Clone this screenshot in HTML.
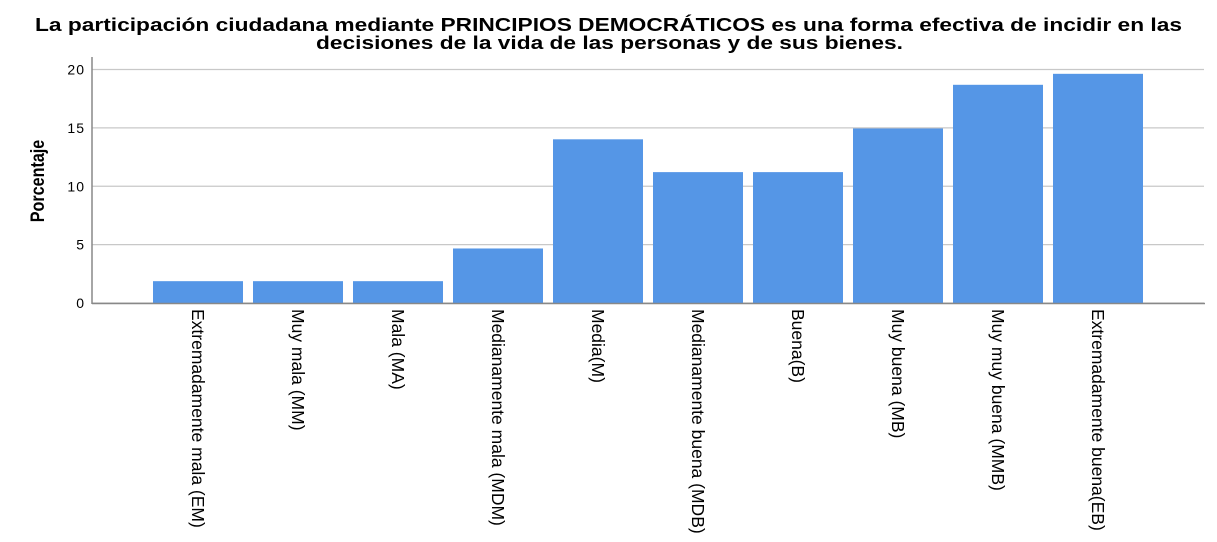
<!DOCTYPE html>
<html><head><meta charset="utf-8"><style>
body{margin:0;background:#fff}
svg{display:block;font-family:"Liberation Sans",Arial,sans-serif}
</style></head><body>
<svg width="1217" height="542" viewBox="0 0 1217 542">
<text x="35" y="31" font-size="18" font-weight="bold" textLength="1147" lengthAdjust="spacingAndGlyphs">La participación ciudadana mediante PRINCIPIOS DEMOCRÁTICOS es una forma efectiva de incidir en las</text>
<text x="316" y="49" font-size="18" font-weight="bold" textLength="587" lengthAdjust="spacingAndGlyphs">decisiones de la vida de las personas y de sus bienes.</text>
<text transform="translate(44,181) rotate(-90) scale(0.85,1)" text-anchor="middle" font-size="19" font-weight="bold">Porcentaje</text>
<g id="grid"></g>
<g id="bars"></g>
<g id="labels"></g>
<line x1="92" y1="57" x2="92" y2="304" stroke="#888" stroke-width="1.5"/>
<line x1="92" y1="303.5" x2="1205" y2="303.5" stroke="#888" stroke-width="1.5"/>
</svg>
<script>
const categories=["Extremadamente mala (EM)","Muy mala (MM)","Mala (MA)","Medianamente mala (MDM)","Media(M)","Medianamente buena (MDB)","Buena(B)","Muy buena (MB)","Muy muy buena (MMB)","Extremadamente buena(EB)"];
const values=[1.87,1.87,1.87,4.67,14.02,11.21,11.21,14.95,18.69,19.63];
const yTicks=[0,5,10,15,20];
const NS="http://www.w3.org/2000/svg";
function y(v){return 303-v*(303-69.5)/20;}
function xc(i){return 198+i*100;}
const grid=document.getElementById('grid'),bars=document.getElementById('bars'),labels=document.getElementById('labels');
yTicks.forEach(t=>{
  const l=document.createElementNS(NS,'line');
  
  
  l.setAttribute('x1',92);l.setAttribute('x2',1204);l.setAttribute('y1',y(t));l.setAttribute('y2',y(t));
  l.setAttribute('stroke','#c8c8c8');l.setAttribute('stroke-width','1.3');
  grid.appendChild(l);
  const tx=document.createElementNS(NS,'text');
  
  
  tx.setAttribute('x',85);tx.setAttribute('y',y(t)+5);tx.setAttribute('text-anchor','end');tx.setAttribute('font-size','14');tx.setAttribute('letter-spacing','1');
  tx.textContent=t;grid.appendChild(tx);
});
values.forEach((v,i)=>{
  const r=document.createElementNS(NS,'rect');
  
  
  r.setAttribute('x',xc(i)-45);r.setAttribute('width',90);r.setAttribute('y',y(v));r.setAttribute('height',303-y(v));
  r.setAttribute('fill','#5596e6');
  bars.appendChild(r);
  const tx=document.createElementNS(NS,'text');
  
  
  tx.setAttribute('transform','translate('+(xc(i)-6)+',309) rotate(90) scale(1.0,1)');
  tx.setAttribute('font-size','17.5');
  tx.textContent=categories[i];labels.appendChild(tx);
});
</script>
</body></html>
